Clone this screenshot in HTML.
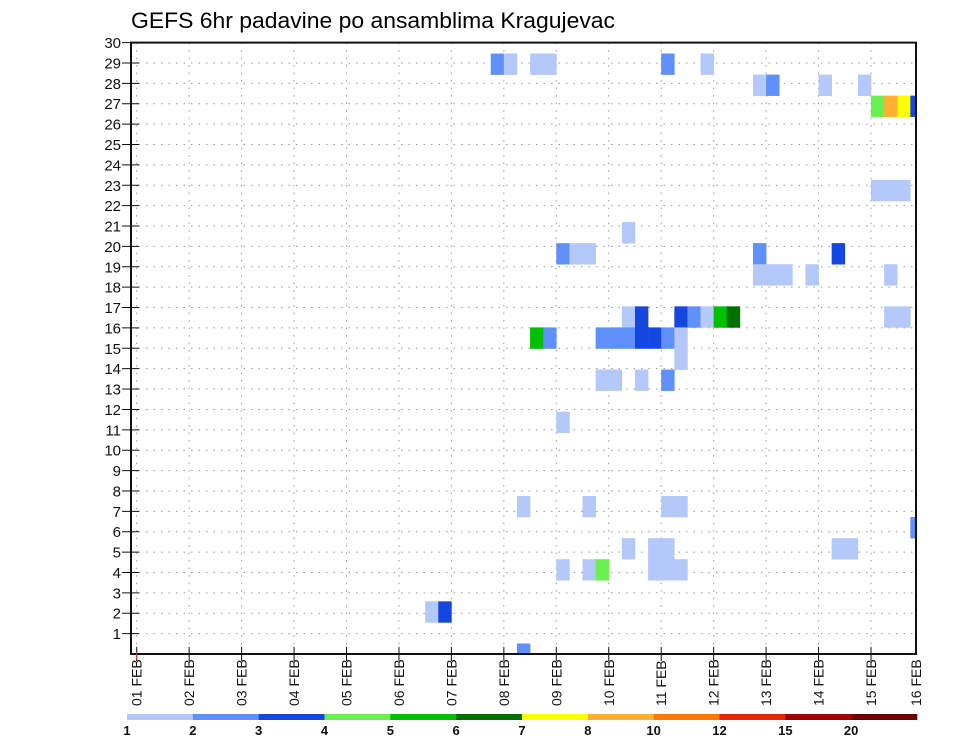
<!DOCTYPE html>
<html><head><meta charset="utf-8"><style>
html,body{margin:0;padding:0;background:#fff;}
svg{display:block;font-family:"Liberation Sans",sans-serif;}
</style></head><body>
<svg id="chart" width="960" height="742" viewBox="0 0 960 742" xmlns="http://www.w3.org/2000/svg">
<text x="131" y="28" font-size="22" textLength="484" lengthAdjust="spacingAndGlyphs">GEFS 6hr padavine po ansamblima Kragujevac</text>
<g id="grid"></g>
<g id="cells"></g>
<g id="axes"></g>
<g id="colorbar"></g>
</svg>
<script>
// --- data ---
const dayLabels = ["01 FEB","02 FEB","03 FEB","04 FEB","05 FEB","06 FEB","07 FEB","08 FEB","09 FEB","10 FEB","11 FEB","12 FEB","13 FEB","14 FEB","15 FEB","16 FEB"];
const yTicks = [1,2,3,4,5,6,7,8,9,10,11,12,13,14,15,16,17,18,19,20,21,22,23,24,25,26,27,28,29,30];
const levels = [1,2,3,4,5,6,7,8,10,12,15,20];
const levelColors = ["#b4c8fa","#6090fa","#1446e0","#6af050","#00c000","#007000","#ffff00","#ffb030","#ff7800","#e62800","#a00000","#6e0000"];
// member row index, 6-hour step index (from 01 FEB 00z), precipitation value (mm)
const cellMember = [28,28,28,28,28,28, 27,27,27,27, 26,26,26,26, 22,22,22, 20, 19,19,19,19,19, 18,18,18,18,18,
  16,16,16,16,16,16,16,16,16, 15,15,15,15,15,15,15,15,15, 14, 13,13,13,13, 11,
  7,7,7,7, 6, 5,5,5,5,5, 4,4,4,4,4,4, 2,2, 0];
const cellStep = [27,28,30,31,40,43, 47,48,52,55, 56,57,58,59, 56,57,58, 37, 32,33,34,47,53, 47,48,49,51,57,
  37,38,41,42,43,44,45,57,58, 30,31,35,36,37,38,39,40,41, 41, 35,36,38,40, 32,
  29,34,40,41, 59, 37,39,40,53,54, 32,34,35,39,40,41, 22,23, 29];
const cellValue = [2.5,1.5,1.5,1.5,2.5,1.5, 1.5,2.5,1.5,1.5, 4.5,9,7.5,3.5, 1.5,1.5,1.5, 1.5, 2.5,1.5,1.5,2.5,3.5, 1.5,1.5,1.5,1.5,1.5,
  1.5,3.5,3.5,2.5,1.5,5.5,6.5,1.5,1.5, 5.5,2.5,2.5,2.5,2.5,3.5,3.5,2.5,1.5, 1.5, 1.5,1.5,1.5,2.5, 1.5,
  1.5,1.5,1.5,1.5, 2.5, 1.5,1.5,1.5,1.5,1.5, 1.5,1.5,4.5,1.5,1.5,1.5, 1.5,3.5, 2.5];

// --- scales ---
const L=131, R=916, T=42.6, B=654;
const x0=136.7, dayW=52.45;
const xStep = s => x0 + s*dayW/4;
const yTick = k => B - k*(B-T)/30;
const rowH = 21.07;
const yMember = m => B - m*rowH;
function colorFor(v){let i=0;for(let j=0;j<levels.length;j++){if(v>=levels[j])i=j;}return levelColors[i];}
const NS="http://www.w3.org/2000/svg";
function mk(tag,attrs,parent){const e=document.createElementNS(NS,tag);for(const k in attrs)e.setAttribute(k,attrs[k]);parent.appendChild(e);return e;}

const grid=document.getElementById('grid'), cells=document.getElementById('cells'), axes=document.getElementById('axes'), cb=document.getElementById('colorbar');

// grid
yTicks.forEach(k=>{const l=mk('line',{x1:L,x2:R,y1:yTick(k),y2:yTick(k),stroke:'#999','stroke-width':1,'stroke-dasharray':'1.5 6'},grid);

});
dayLabels.forEach((d,i)=>{const x=x0+i*dayW;if(x>=R)return;const l=mk('line',{x1:x,x2:x,y1:T,y2:B,stroke:'#999','stroke-width':1,'stroke-dasharray':'1.5 6'},grid);

});

// cells
const clip=mk('clipPath',{id:'pc'},document.getElementById('chart'));mk('rect',{x:L,y:T,width:R-L,height:B-T},clip);
cells.setAttribute('clip-path','url(#pc)');
for(let i=0;i<cellMember.length;i++){
  const x=xStep(cellStep[i]), yc=yMember(cellMember[i]);
  const r=mk('rect',{x:x,y:yc-rowH/2,width:dayW/4+0.3,height:rowH+0.3,fill:colorFor(cellValue[i])},cells);
  
  
}

// frame
const fr=mk('rect',{x:L,y:T,width:R-L,height:B-T,fill:'none',stroke:'#111','stroke-width':2},axes);



// y ticks
yTicks.forEach(k=>{const y=yTick(k);
  mk('line',{x1:122,x2:139,y1:y,y2:y,stroke:'#111','stroke-width':1},axes);
  const t=mk('text',{x:121,y:y+5.5,'font-size':15,'text-anchor':'end',fill:'#111'},axes);t.textContent=k;
  
  });

// x ticks
dayLabels.forEach((d,i)=>{let x=x0+i*dayW;if(x>R)x=R;
  if(i<dayLabels.length-1)mk('line',{x1:x,x2:x,y1:B-7,y2:B+7,stroke:'#111','stroke-width':1},axes);
  const t=mk('text',{x:0,y:0,'font-size':14,fill:'#111',transform:`translate(${x+5},706) rotate(-90)`},axes);t.textContent=d;
  
  });
mk('line',{x1:x0,x2:x0,y1:B-2,y2:B+5,stroke:'#c44','stroke-width':1},axes);

// colorbar
const cbL=127, cbR=917, segW=(cbR-cbL)/levels.length;
levelColors.forEach((c,i)=>{const r=mk('rect',{x:cbL+i*segW,y:714,width:segW+0.3,height:6,fill:c},cb);
  
  });
levels.forEach((v,i)=>{const t=mk('text',{x:cbL+i*segW,y:735,'font-size':13,'font-weight':'bold','text-anchor':'middle',fill:'#111'},cb);t.textContent=v;
  
  });
</script>
</body></html>
